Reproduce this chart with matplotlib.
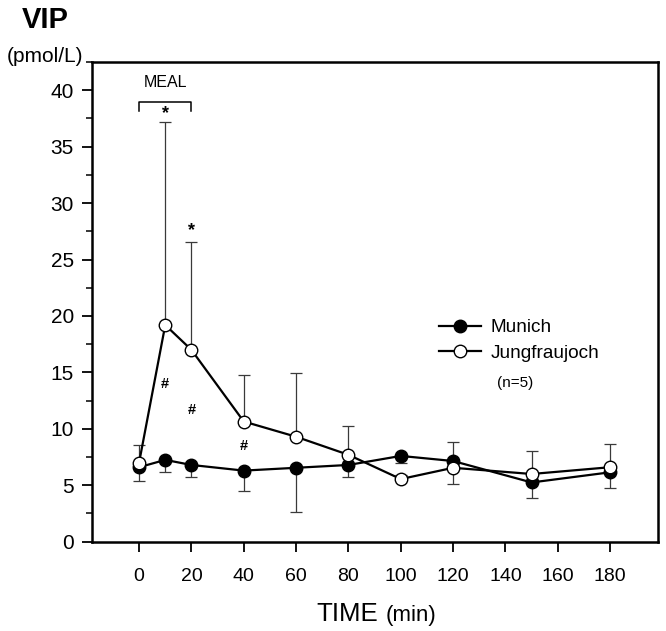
import numpy as np
import matplotlib
matplotlib.use('Agg')
import matplotlib.pyplot as plt
from matplotlib.ticker import MultipleLocator

plt.rcParams['font.family'] = ['Liberation Sans', 'DejaVu Sans']

# values
time = [0, 10, 20, 40, 60, 80, 100, 120, 150, 180]
munich = [6.6, 7.25, 6.8, 6.3, 6.55, 6.8, 7.6, 7.15, 5.25, 6.15]
munich_low = [5.35, 6.2, 5.7, 4.5, 2.6, 5.75, 6.95, 5.15, 3.85, 4.75]
jungfrau = [7.0, 19.2, 17.0, 10.65, 9.3, 7.7, 5.55, 6.55, 6.0, 6.6]
jungfrau_high = [8.6, 37.15, 26.55, 14.75, 14.95, 10.25, 5.9, 8.8, 8.05, 8.65]
xticks = list(range(0, 181, 20))

# significance marks
star_pos = [(10, 37.9), (20, 27.6)]
hash_pos = [(10, 14.0), (20, 11.7), (40, 8.45)]

fig = plt.figure(figsize=(6.66, 6.31), dpi=100)
ax = fig.add_axes([0.1381, 0.1415, 0.8499, 0.7602])

t = np.array(time)
m = np.array(munich)
j = np.array(jungfrau)

# one-sided error bars: Munich downwards, Jungfraujoch upwards
ax.errorbar(t, m, yerr=[m - np.array(munich_low), np.zeros_like(m)],
            fmt='none', ecolor='#3a3a3a', elinewidth=0.9, capsize=4.5,
            capthick=0.9, zorder=1)
ax.errorbar(t, j, yerr=[np.zeros_like(j), np.array(jungfrau_high) - j],
            fmt='none', ecolor='#3a3a3a', elinewidth=0.9, capsize=4.5,
            capthick=0.9, zorder=1)

ax.plot(t, m, '-o', color='black', lw=1.6, ms=9, mfc='black',
        mec='black', mew=1.0, label='Munich', zorder=3)
ax.plot(t, j, '-o', color='black', lw=1.6, ms=9, mfc='white',
        mec='black', mew=1.0, label='Jungfraujoch', zorder=4)

ax.set_xlim(-18, 198.3)
ax.set_ylim(0, 42.5)
ax.set_xticks(xticks)
ax.yaxis.set_major_locator(MultipleLocator(5))
ax.yaxis.set_minor_locator(MultipleLocator(2.5))
ax.set_yticks([0, 5, 10, 15, 20, 25, 30, 35, 40])

for s in ax.spines.values():
    s.set_linewidth(1.8)

ax.tick_params(axis='x', direction='out', length=7, width=1.3,
               pad=12, labelsize=14)
ax.tick_params(axis='y', which='major', direction='out', length=7,
               width=1.3, pad=6, labelsize=15)
ax.tick_params(axis='y', which='minor', direction='out', length=4.5,
               width=1.1)

# MEAL bracket
ax.plot([0, 0, 20, 20], [38.2, 39.0, 39.0, 38.2], color='black', lw=1.1,
        clip_on=False)
ax.text(10, 40.7, 'MEAL', ha='center', va='center', fontsize=11.5)

for x, y in star_pos:
    ax.text(x, y, '*', ha='center', va='center', fontsize=13,
            fontweight='bold')
for x, y in hash_pos:
    ax.text(x, y, '#', ha='center', va='center', fontsize=10.5,
            fontweight='bold')

leg = ax.legend(loc='upper left', bbox_to_anchor=(0.6, 0.48), frameon=False,
                fontsize=13.7, handlelength=2.2, handletextpad=0.5,
                labelspacing=0.42, borderaxespad=0)
ax.text(0.7153, 0.33, '(n=5)', transform=ax.transAxes, fontsize=11,
        ha='left', va='center')

fig.text(0.068, 0.968, 'VIP', fontsize=21, fontweight='bold',
         ha='center', va='center')
fig.text(0.068, 0.91, '(pmol/L)', fontsize=15, ha='center', va='center')
fig.text(0.5683, 0.0165, 'TIME', fontsize=18.6, ha='right', va='baseline')
fig.text(0.5796, 0.0165, '(min)', fontsize=16, ha='left', va='baseline')

fig.savefig('out.png', dpi=100)
